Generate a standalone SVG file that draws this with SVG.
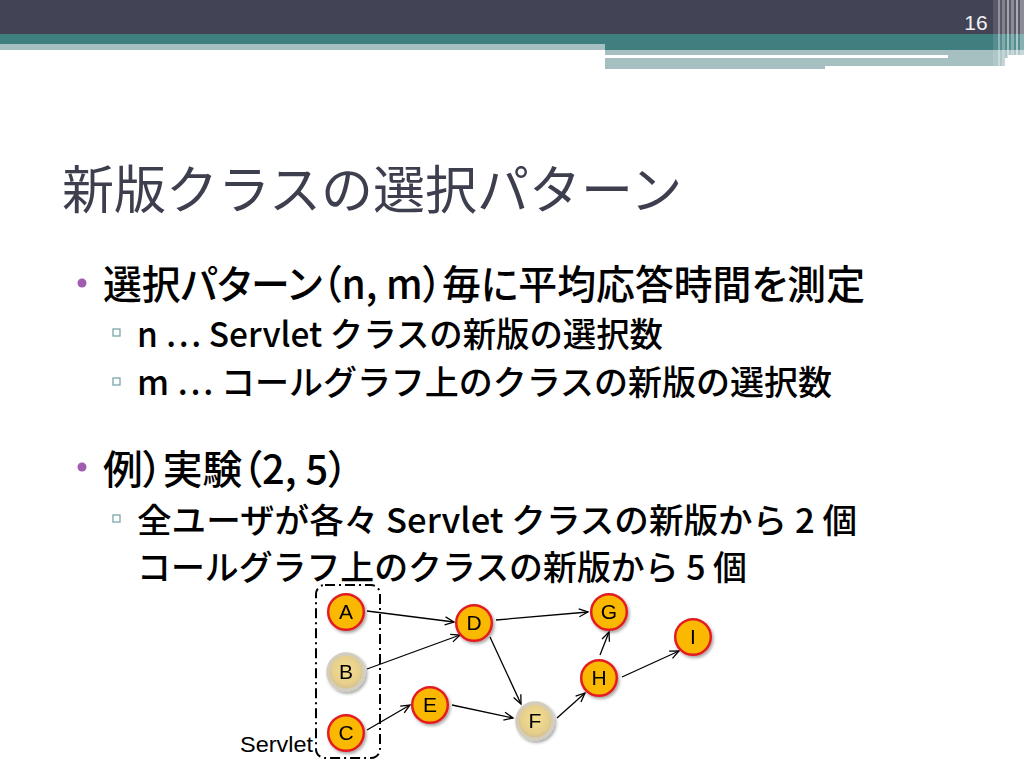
<svg xmlns="http://www.w3.org/2000/svg" width="1024" height="768" viewBox="0 0 1024 768">
<style>
.jp{font-family:"Noto Sans CJK JP","Noto Sans",sans-serif;}
.t1{font-size:40px;fill:#000;font-weight:500;}
.t2{font-size:34px;fill:#000;font-weight:500;}
.p{font-feature-settings:"palt";}
.node{stroke:#e31e24;stroke-width:2.5;fill:#fbb800;}
.gnode{stroke:#d3cdbd;stroke-width:3.5;fill:url(#gold);}
.lbl{font-family:"Liberation Sans",Arial,sans-serif;font-size:21px;fill:#000;text-anchor:middle;}
.edge{stroke:#000;stroke-width:1.3;fill:none;marker-end:url(#arr);}
.sq{fill:none;stroke:#6f9ea3;stroke-width:1.2;}
</style>
<defs>
<radialGradient id="gold" cx="50%" cy="45%" r="55%">
<stop offset="0" stop-color="#f6de90"/>
<stop offset="0.7" stop-color="#e6cf8c"/>
<stop offset="1" stop-color="#cfbb8c"/>
</radialGradient>
<filter id="sh" x="-30%" y="-30%" width="170%" height="170%">
<feDropShadow dx="1.5" dy="2" stdDeviation="1.5" flood-color="#000" flood-opacity="0.35"/>
</filter>
<marker id="arr" markerWidth="12" markerHeight="10" refX="10" refY="5" orient="auto" markerUnits="userSpaceOnUse">
<path d="M1,1 L10,5 L1,9" fill="none" stroke="#000" stroke-width="1.3"/>
</marker>
</defs>
<rect width="1024" height="768" fill="#fff"/>
<g id="header">
<rect x="0" y="0" width="1024" height="34" fill="#424355"/>
<rect x="0" y="34" width="1024" height="10" fill="#3f7f80"/>
<rect x="0" y="44" width="605" height="6" fill="#a6c0c2"/>
<rect x="605" y="44" width="419" height="6" fill="#3f7f80"/>
<rect x="605" y="50" width="419" height="5" fill="#a6c0c2"/>
<rect x="605" y="58" width="220" height="11" fill="#a6c0c2"/>
<rect x="825" y="58" width="180" height="8" fill="#a6c0c2"/>
<rect x="948" y="55" width="60" height="3" fill="#a6c0c2"/>
<g fill="#fff">
<rect x="993" y="0" width="31" height="68" opacity="0.12"/>
<rect x="998" y="0" width="2" height="68" opacity="0.35"/>
<rect x="1002" y="0" width="3" height="68" opacity="0.25"/>
<rect x="1007" y="0" width="2" height="68" opacity="0.45"/>
<rect x="1011" y="0" width="3" height="68" opacity="0.3"/>
<rect x="1016" y="0" width="2" height="68" opacity="0.5"/>
<rect x="1020" y="0" width="4" height="68" opacity="0.3"/>
</g>
<text x="976" y="30" font-family="Liberation Sans,Arial,sans-serif" font-size="21" fill="#f2f2f2" text-anchor="middle">16</text>
</g>
<g id="title">
<text class="jp" x="62" y="209" font-size="52" fill="#3d3e4e">新版クラスの選択パターン</text>
</g>
<g id="body">
<circle cx="82" cy="283" r="4.5" fill="#a25cae"/>
<text class="jp t1 p" x="103" y="299" textLength="762" lengthAdjust="spacingAndGlyphs">選択パターン（n, m）毎に平均応答時間を測定</text>
<rect class="sq" x="113" y="329" width="7" height="7"/>
<text class="jp t2" x="137" y="347" textLength="526" lengthAdjust="spacingAndGlyphs">n … Servlet クラスの新版の選択数</text>
<rect class="sq" x="113" y="378" width="7" height="7"/>
<text class="jp t2" x="137" y="395" textLength="695" lengthAdjust="spacingAndGlyphs">m … コールグラフ上のクラスの新版の選択数</text>
<circle cx="82" cy="467" r="4.5" fill="#a25cae"/>
<text class="jp t1 p" x="103" y="484" textLength="245" lengthAdjust="spacingAndGlyphs">例）実験（2, 5）</text>
<rect class="sq" x="113" y="515" width="7" height="7"/>
<text class="jp t2" x="137" y="533" textLength="720" lengthAdjust="spacingAndGlyphs">全ユーザが各々 Servlet クラスの新版から 2 個</text>
<text class="jp t2" x="137" y="580" textLength="610" lengthAdjust="spacingAndGlyphs">コールグラフ上のクラスの新版から 5 個</text>
</g>
<g id="servlet-group">
<rect x="316" y="585" width="64" height="173" rx="9" fill="none" stroke="#000" stroke-width="2" stroke-dasharray="10 4 2 4"/>
<text x="313" y="752" font-family="Liberation Sans,Arial,sans-serif" font-size="22" fill="#000" text-anchor="end" textLength="73" lengthAdjust="spacingAndGlyphs">Servlet</text>
</g>
<g id="connectors">
<line class="edge" x1="367" y1="611" x2="454" y2="622"/>
<line class="edge" x1="367" y1="669" x2="460" y2="635"/>
<line class="edge" x1="367" y1="730" x2="410" y2="705"/>
<line class="edge" x1="452" y1="705" x2="513" y2="718"/>
<line class="edge" x1="490" y1="637" x2="521" y2="704"/>
<line class="edge" x1="496" y1="620" x2="588" y2="612"/>
<line class="edge" x1="557" y1="718" x2="585" y2="693"/>
<line class="edge" x1="600" y1="655" x2="609" y2="632"/>
<line class="edge" x1="622" y1="677" x2="679" y2="651"/>
</g>
<g id="node-A" filter="url(#sh)"><circle class="node" cx="346" cy="612" r="17.8"/><text class="lbl" x="346" y="619">A</text></g>
<g id="node-B" filter="url(#sh)"><circle class="gnode" cx="346" cy="672" r="18"/><text class="lbl" x="346" y="679">B</text></g>
<g id="node-C" filter="url(#sh)"><circle class="node" cx="346" cy="733" r="17.8"/><text class="lbl" x="346" y="740">C</text></g>
<g id="node-D" filter="url(#sh)"><circle class="node" cx="474" cy="623" r="17.8"/><text class="lbl" x="474" y="630">D</text></g>
<g id="node-E" filter="url(#sh)"><circle class="node" cx="430" cy="705" r="17.8"/><text class="lbl" x="430" y="712">E</text></g>
<g id="node-F" filter="url(#sh)"><circle class="gnode" cx="535" cy="721" r="18"/><text class="lbl" x="535" y="728">F</text></g>
<g id="node-G" filter="url(#sh)"><circle class="node" cx="609" cy="612" r="17.8"/><text class="lbl" x="609" y="619">G</text></g>
<g id="node-H" filter="url(#sh)"><circle class="node" cx="599" cy="678" r="17.8"/><text class="lbl" x="599" y="685">H</text></g>
<g id="node-I" filter="url(#sh)"><circle class="node" cx="693" cy="637" r="17.8"/><text class="lbl" x="693" y="644" font-family="Liberation Serif,serif">I</text></g>
</svg>
